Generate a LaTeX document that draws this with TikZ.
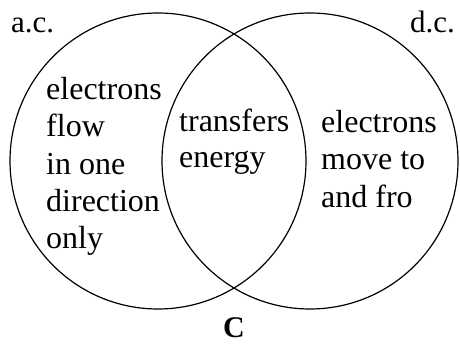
\documentclass[tikz,border=0pt]{standalone}
\usepackage{fontspec}
\setmainfont{Liberation Serif}
\begin{document}
\begin{tikzpicture}[x=1pt,y=1pt,
  ring/.style={draw=black,line width=1.2pt},
  txt/.style={inner sep=0pt,anchor=base west,font=\fontsize{32}{37}\selectfont},
  lbl/.style={inner sep=0pt,font=\fontsize{31}{37}\selectfont}]
\useasboundingbox (0,0) rectangle (460,345);
\draw[ring] (158,184) circle[radius=148];
\draw[ring] (310,184) circle[radius=148];
\node[lbl,anchor=base west] (ac) at (11,312) {a.c.};
\node[lbl,anchor=base east] (dc) at (455,312) {d.c.};
\node[txt] (l1) at (46,245) {electrons};
\node[txt] (l2) at (46,208) {flow};
\node[txt] (l3) at (46,170) {in one};
\node[txt] (l4) at (46,133) {direction};
\node[txt] (l5) at (46,96) {only};
\node[txt] (m1) at (179,213) {transfers};
\node[txt] (m2) at (179,177) {energy};
\node[txt] (r1) at (321,212) {electrons};
\node[txt] (r2) at (321,175) {move to};
\node[txt] (r3) at (321,137) {and fro};
\node[lbl,anchor=base,font=\fontsize{30}{37}\selectfont\bfseries] (c) at (234,7) {C};
\end{tikzpicture}
\end{document}
